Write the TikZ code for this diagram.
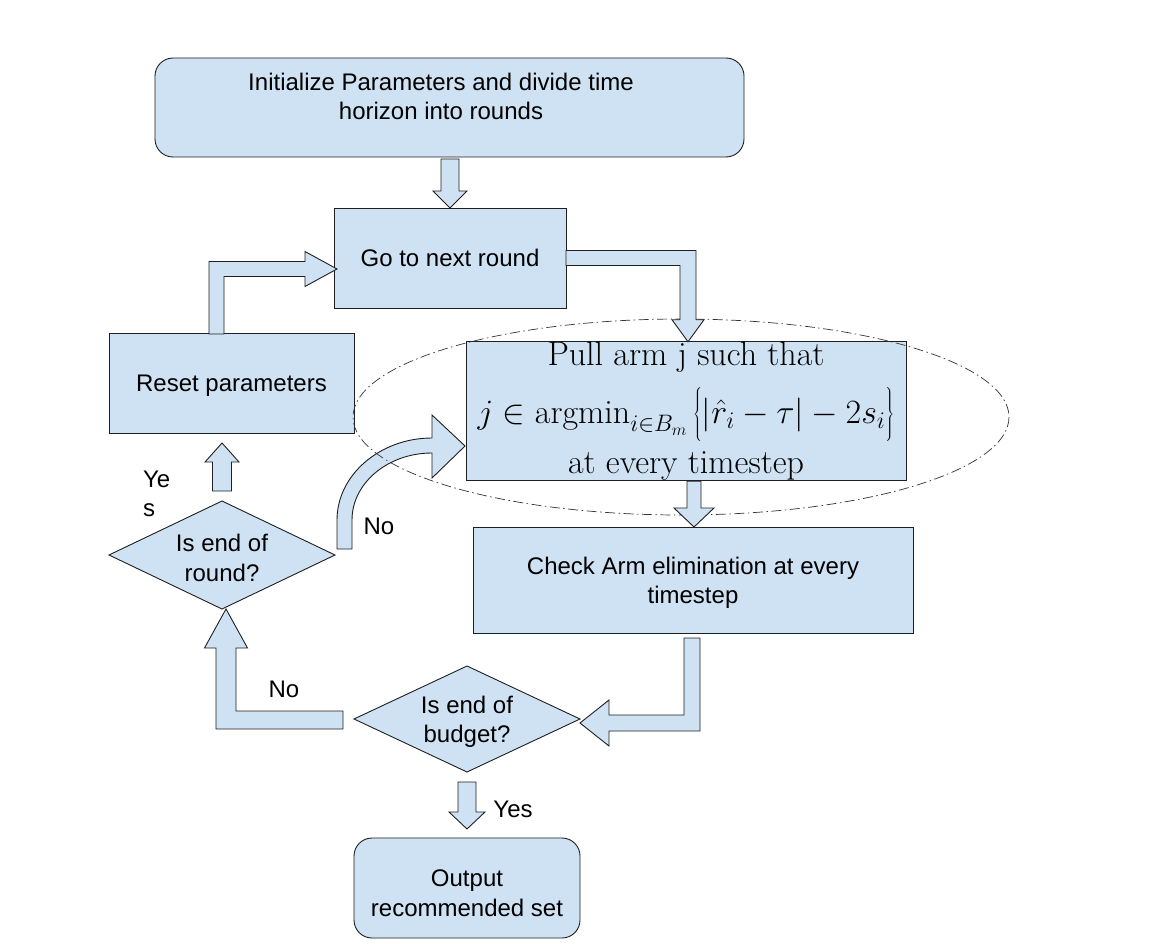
\RequirePackage{fix-cm}
\documentclass[tikz,border=0pt]{standalone}
\usepackage{fontspec}
\newfontfamily\arial{Liberation Sans}
\usetikzlibrary{shapes.geometric,calc}
\definecolor{boxfill}{HTML}{CFE2F3}
\definecolor{boxline}{HTML}{1F1F1F}
\tikzset{
  every node/.style={inner sep=0pt, outer sep=0pt},
  sanstext/.style={font=\arial\fontsize{24}{29.5}\selectfont, align=center, text=black},
  twolines/.style={text height=52.5pt},
  rectbox/.style={draw=boxline, fill=boxfill, line width=0.9pt, rectangle},
  roundbox/.style={rectbox, rounded corners=18pt},
  decision/.style={draw=boxline, fill=boxfill, line width=0.9pt, diamond, aspect=2.13},
  blockarrow/.style={draw=boxline, fill=boxfill, line width=0.9pt, line join=miter},
  focusring/.style={draw=black!80, line width=0.7pt, dash pattern=on 10pt off 3.5pt on 1.5pt off 3.5pt},
}
% straight vertical block arrow: #1 start, #2 tip, #3 shaft half width, #4 head half width, #5 head length (signed, pixel y)
\newcommand\vblockarrow[5]{%
  \draw[blockarrow] ($(#1)+(-#3,0)$) -- ($(#2)+(-#3,#5)$) -- ($(#2)+(-#4,#5)$) -- (#2)
    -- ($(#2)+(#4,#5)$) -- ($(#2)+(#3,#5)$) -- ($(#1)+(#3,0)$) -- cycle;}
\begin{document}
\begin{tikzpicture}[x=1pt,y=-1pt]
\useasboundingbox (0,0) rectangle (1166,944);
\fill[white] (0,0) rectangle (1166,944);

% boxes
\node[roundbox, minimum width=589pt, minimum height=99pt] (init) at (449.5,107.5) {};
\node[sanstext] (inittext) at (441,96.5) {Initialize Parameters and divide time\\horizon into rounds};
\node[rectbox, sanstext, minimum width=232pt, minimum height=100pt] (go) at (450,258) {Go to next round};
\node[rectbox, minimum width=440pt, minimum height=136pt, align=center,
      font=\fontsize{34}{50}\selectfont] (pull) at (686,411)
  {Pull arm j such that\\[8pt]
   $j\in\mathop{\mathrm{argmin}}\nolimits_{i\in B_m}\left\{\vrule height 36.5pt depth 19.5pt width 0pt|\hat{r}_i-\tau|-2s_i\right\}$\\
   at every timestep};
\node[rectbox, sanstext, twolines, minimum width=440pt, minimum height=106pt] (check) at (693,580) {Check Arm elimination at every\\timestep};
\node[decision, sanstext, twolines, minimum width=226pt, minimum height=106pt] (budget) at (467,719) {Is end of\\budget?};
\node[decision, sanstext, twolines, minimum width=226pt, minimum height=108pt] (round) at (222,555) {Is end of\\round?};
\node[rectbox, sanstext, text height=17pt, text depth=0pt, minimum width=245pt, minimum height=100pt] (reset) at (231.5,383) {Reset parameters};
\node[roundbox, minimum width=226pt, minimum height=100pt] (output) at (467,888) {};
\node[sanstext] (outputtext) at (467,893) {Output\\recommended set};

% labels
\node[sanstext, align=left, anchor=west] (yeslabel) at (143,494) {Ye\\s};
\node[sanstext] (nolabel) at (379,526) {No};
\node[sanstext] (nobudget) at (284,689) {No};
\node[sanstext] (yesbudget) at (513,809) {Yes};

% curved arrow: round -> pull (No)
\coordinate (s8) at ($(round.east)+(9.5,-6)$);
\coordinate (t8) at ($(pull.west)+(-1,35)$);
\draw[blockarrow] ($(s8)+(-7.5,0)$) -- ($(s8)+(-7.5,-29)$)
  .. controls ($(s8)+(-7.5,-74)$) and ($(t8)+(-85,-8)$) .. ($(t8)+(-33,-8)$)
  -- ($(t8)+(-33,-31)$) -- (t8) -- ($(t8)+(-33,32)$) -- ($(t8)+(-33,7)$)
  .. controls ($(t8)+(-77,7)$) and ($(s8)+(7.5,-66)$) .. ($(s8)+(7.5,-29)$)
  -- ($(s8)+(7.5,0)$) -- cycle;

% dash-dot ellipse
\draw[focusring] (681,417) ellipse [x radius=328, y radius=98];

% init -> go
\coordinate (t1) at (go.north);
\coordinate (s1) at ($(init.south -| t1)+(0,2)$);
\vblockarrow{s1}{t1}{9}{17}{-17}

% go -> pull (bent)
\coordinate (t2) at ($(pull.north)+(2,0)$);
\coordinate (c2) at (t2 |- go.east);
\draw[blockarrow] ($(go.east)+(0,-7.5)$) -- ($(c2)+(8,-7.5)$) -- ($(t2)+(8,-22)$) -- ($(t2)+(16,-22)$)
  -- (t2) -- ($(t2)+(-16,-22)$) -- ($(t2)+(-8,-22)$) -- ($(c2)+(-8,7.5)$) -- ($(go.east)+(0,7.5)$) -- cycle;

% pull -> check
\coordinate (t3) at (check.north);
\coordinate (s3) at ($(pull.south -| t3)+(1,1)$);
\coordinate (t3b) at ($(t3)+(1,0)$);
\vblockarrow{s3}{t3b}{7}{20}{-19}

% check -> budget (bent)
\coordinate (s4) at ($(check.south)+(-1,5)$);
\coordinate (t4) at ($(budget.east)+(0,4)$);
\coordinate (c4) at (s4 |- t4);
\draw[blockarrow] ($(s4)+(-8,0)$) -- ($(c4)+(-8,-8)$) -- ($(t4)+(29,-8)$) -- ($(t4)+(29,-23)$)
  -- (t4) -- ($(t4)+(29,23)$) -- ($(t4)+(29,8)$) -- ($(c4)+(8,8)$) -- ($(s4)+(8,0)$) -- cycle;

% budget -> round (No, bent)
\coordinate (s5) at ($(budget.west)+(-11,1)$);
\coordinate (t5) at ($(round.south)+(4,0)$);
\coordinate (c5) at (t5 |- s5);
\draw[blockarrow] ($(s5)+(0,-9)$) -- ($(c5)+(10,-9)$) -- ($(t5)+(10,39)$) -- ($(t5)+(21.5,39)$)
  -- (t5) -- ($(t5)+(-21.5,39)$) -- ($(t5)+(-10,39)$) -- ($(c5)+(-10,9)$) -- ($(s5)+(0,9)$) -- cycle;

% round -> reset (Yes)
\coordinate (s6) at ($(round.north)+(0,-10)$);
\coordinate (t6) at ($(reset.south -| round.north)+(0,10)$);
\vblockarrow{s6}{t6}{9.5}{17}{19}

% reset -> go (bent)
\coordinate (s7) at ($(reset.north)+(-15,1)$);
\coordinate (t7) at ($(go.west)+(3,11)$);
\coordinate (c7) at (s7 |- t7);
\draw[blockarrow] ($(s7)+(-7.5,0)$) -- ($(c7)+(-7.5,-7.5)$) -- ($(t7)+(-32,-7.5)$) -- ($(t7)+(-32,-17.5)$)
  -- (t7) -- ($(t7)+(-32,17.5)$) -- ($(t7)+(-32,7.5)$) -- ($(c7)+(7.5,7.5)$) -- ($(s7)+(7.5,0)$) -- cycle;

% budget -> output (Yes)
\coordinate (s9) at ($(budget.south)+(0,10)$);
\coordinate (t9) at ($(output.north)+(0,-9)$);
\vblockarrow{s9}{t9}{9}{18}{-17}
\end{tikzpicture}
\end{document}
